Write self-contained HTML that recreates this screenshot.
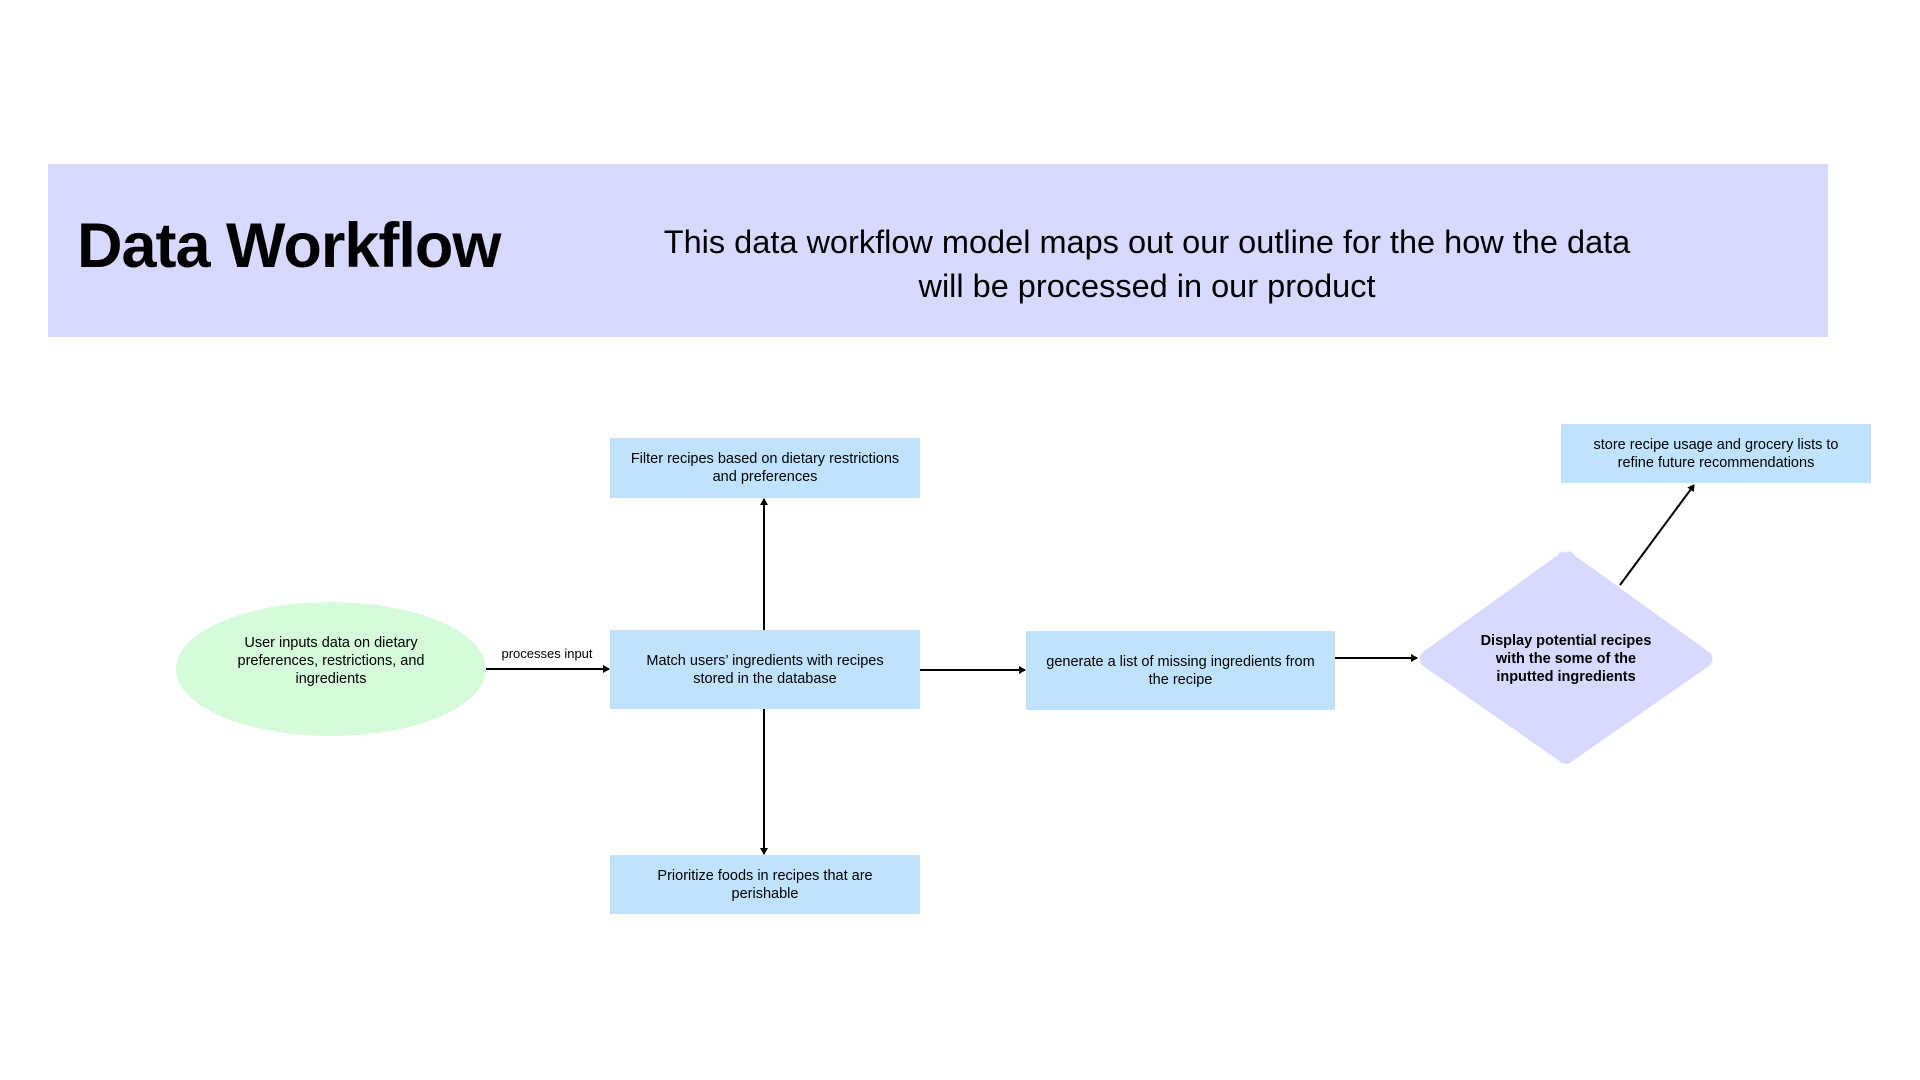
<!DOCTYPE html>
<html><head><style>
body{margin:0;width:1920px;height:1080px;background:#fff;position:relative;overflow:hidden;font-family:"Liberation Sans",sans-serif;color:#000}
.banner{position:absolute;left:48px;top:164px;width:1780px;height:173px;background:#d8d9fe}
.title{position:absolute;left:77px;top:210px;font-size:63px;font-weight:bold;letter-spacing:-1px;white-space:nowrap}
.sub{position:absolute;left:570px;top:220px;width:1154px;text-align:center;font-size:32.5px;line-height:44px}
.box{position:absolute;background:#bfe3fe;display:flex;align-items:center;justify-content:center;text-align:center;font-size:14.5px;line-height:18px;box-sizing:border-box;padding:0 2px;white-space:nowrap}
svg{position:absolute;left:0;top:0}
</style></head><body>
<div class="banner"></div>
<div class="title">Data Workflow</div>
<div class="sub">This data workflow model maps out our outline for the how the data<br>will be processed in our product</div>
<svg width="1920" height="1080">
<defs><marker id="a" markerWidth="8" markerHeight="8" refX="6" refY="4" orient="auto" markerUnits="userSpaceOnUse"><path d="M0,0 L7,4 L0,8 Z" fill="#000"/></marker></defs>
<ellipse cx="331" cy="669" rx="155" ry="67" fill="#d5fbdb"/>
<path d="M1566,553 Q1570,549 1574,555 L1709,652 Q1716,659 1709,666 L1574,760 Q1566,768 1558,760 L1423,666 Q1416,659 1423,652 L1558,555 Q1562,549 1566,553Z" fill="#d8d9fe"/>
<g stroke="#000" stroke-width="2" fill="none" marker-end="url(#a)">
<line x1="486" y1="669" x2="609" y2="669"/>
<line x1="764" y1="630" x2="764" y2="499"/>
<line x1="764" y1="709" x2="764" y2="854"/>
<line x1="920" y1="670" x2="1025" y2="670"/>
<line x1="1335" y1="658" x2="1417" y2="658"/>
<line x1="1620" y1="585" x2="1694" y2="485"/>
</g>
<text x="547" y="658" font-size="13" text-anchor="middle" font-family="Liberation Sans, sans-serif">processes input</text>
</svg>
<div class="box" style="left:176px;top:594px;width:310px;height:134px;background:none">User inputs data on dietary<br>preferences, restrictions, and<br>ingredients</div>
<div class="box" style="left:610px;top:438px;width:310px;height:60px">Filter recipes based on dietary restrictions<br>and preferences</div>
<div class="box" style="left:610px;top:630px;width:310px;height:79px">Match users’ ingredients with recipes<br>stored in the database</div>
<div class="box" style="left:610px;top:855px;width:310px;height:59px">Prioritize foods in recipes that are<br>perishable</div>
<div class="box" style="left:1026px;top:631px;width:309px;height:79px">generate a list of missing ingredients from<br>the recipe</div>
<div class="box" style="left:1561px;top:424px;width:310px;height:59px">store recipe usage and grocery lists to<br>refine future recommendations</div>
<div class="box" style="left:1456px;top:620px;width:220px;height:78px;background:none;font-weight:bold">Display potential recipes<br>with the some of the<br>inputted ingredients</div>
</body></html>
